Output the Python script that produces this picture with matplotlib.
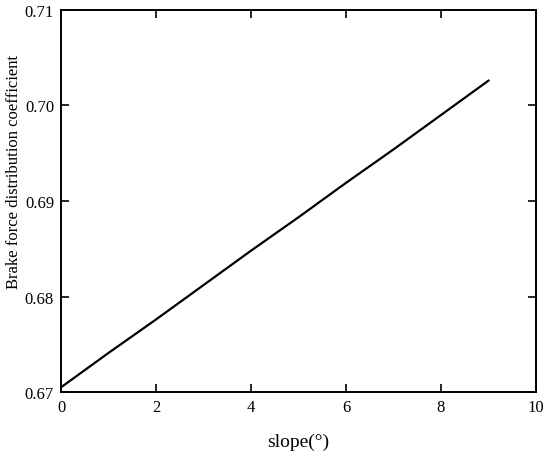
import matplotlib.pyplot as plt

# slope in degrees vs brake force distribution coefficient
slope_deg = [0, 1, 2, 3, 4, 5, 6, 7, 8, 9]
coef = [0.6705, 0.6741, 0.6776, 0.6812, 0.6848, 0.6883, 0.6919, 0.6954, 0.6990, 0.7026]
xticks = [0, 2, 4, 6, 8, 10]
yticks = [0.67, 0.68, 0.69, 0.70, 0.71]

plt.rcParams['font.family'] = ['Liberation Serif', 'DejaVu Serif']

fig = plt.figure(figsize=(5.5, 4.56), dpi=100)
ax = fig.add_axes([0.111, 0.138, 0.8635, 0.838])

ax.plot(slope_deg, coef, color='black', lw=1.6)

ax.set_xlim(0, 10)
ax.set_ylim(0.67, 0.71)
ax.set_xticks(xticks)
ax.set_yticks(yticks)
ax.set_xticklabels([str(t) for t in xticks])
ax.set_yticklabels(['%.2f' % t for t in yticks])
ax.tick_params(direction='in', top=True, right=True, length=6, width=1.2,
               labelsize=12, pad=5)
for s in ax.spines.values():
    s.set_linewidth(1.4)

ax.set_xlabel('slope(°)', fontsize=14, labelpad=13)
ax.set_ylabel('Brake force distribution coefficient', fontsize=12, labelpad=4)
ax.yaxis.set_label_coords(-0.083, 0.58)

fig.savefig('out.png', dpi=100)
